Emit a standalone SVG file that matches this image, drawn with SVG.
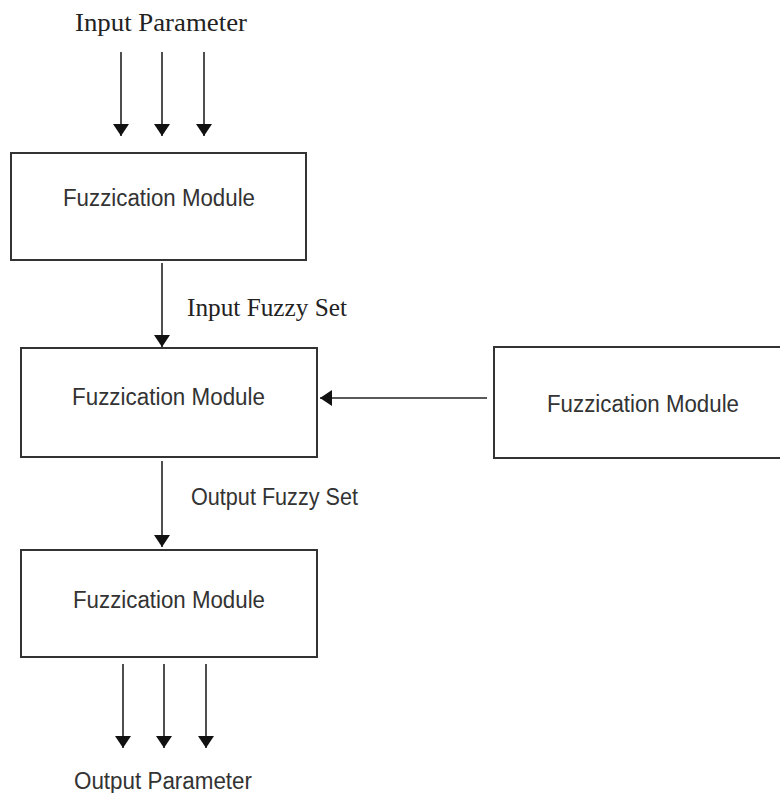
<svg xmlns="http://www.w3.org/2000/svg" width="780" height="793" viewBox="0 0 780 793">
<defs>
<style>
.box{fill:#fff;stroke:#333;stroke-width:2}
.ln{stroke:#222;stroke-width:1.6;fill:none}
.sans{font-family:"Liberation Sans","Open Sans",Arial,sans-serif;font-size:23px;fill:#333}
.serif{font-family:"Liberation Serif","DejaVu Serif",serif;font-size:25px;fill:#222}
</style>
<marker id="ah" viewBox="0 0 12 16" refX="12" refY="8" markerWidth="12" markerHeight="16" markerUnits="userSpaceOnUse" orient="auto">
<path d="M0,0 L12,8 L0,16 Z" fill="#111"/>
</marker>
</defs>
<rect width="780" height="793" fill="#fff"/>
<g id="label-input-parameter"><text class="serif" x="75" y="31" textLength="172" lengthAdjust="spacingAndGlyphs">Input Parameter</text></g>
<g id="node1"><rect class="box" x="11" y="153" width="295" height="107"/><text class="sans" x="63" y="206" textLength="192" lengthAdjust="spacingAndGlyphs">Fuzzication Module</text></g>
<g id="node2"><rect class="box" x="21" y="348" width="296" height="109"/><text class="sans" x="72" y="405" textLength="193" lengthAdjust="spacingAndGlyphs">Fuzzication Module</text></g>
<g id="node3"><rect class="box" x="494" y="347" width="290" height="111"/><text class="sans" x="547" y="412" textLength="192" lengthAdjust="spacingAndGlyphs">Fuzzication Module</text></g>
<g id="node4"><rect class="box" x="21" y="550" width="296" height="107"/><text class="sans" x="73" y="608" textLength="192" lengthAdjust="spacingAndGlyphs">Fuzzication Module</text></g>
<g id="label-input-fuzzy"><text class="serif" x="187" y="316" textLength="160" lengthAdjust="spacingAndGlyphs">Input Fuzzy Set</text></g>
<g id="label-output-fuzzy"><text class="sans" x="191" y="505" textLength="167" lengthAdjust="spacingAndGlyphs">Output Fuzzy Set</text></g>
<g id="label-output-parameter"><text class="sans" x="74" y="789" textLength="178" lengthAdjust="spacingAndGlyphs">Output Parameter</text></g>
<g id="connectors">
<line class="ln" x1="121" y1="52" x2="121" y2="136" marker-end="url(#ah)"/>
<line class="ln" x1="162" y1="52" x2="162" y2="136" marker-end="url(#ah)"/>
<line class="ln" x1="204" y1="52" x2="204" y2="136" marker-end="url(#ah)"/>
<line class="ln" x1="162" y1="263" x2="162" y2="347" marker-end="url(#ah)"/>
<line class="ln" x1="487" y1="398" x2="320" y2="398" marker-end="url(#ah)"/>
<line class="ln" x1="162" y1="461" x2="162" y2="547" marker-end="url(#ah)"/>
<line class="ln" x1="123" y1="664" x2="123" y2="748" marker-end="url(#ah)"/>
<line class="ln" x1="164" y1="664" x2="164" y2="748" marker-end="url(#ah)"/>
<line class="ln" x1="206" y1="664" x2="206" y2="748" marker-end="url(#ah)"/>
</g>
</svg>
